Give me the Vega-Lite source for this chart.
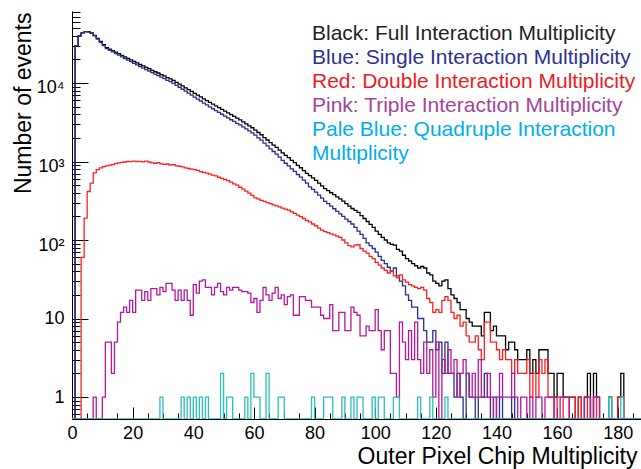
{
  "$schema": "https://vega.github.io/schema/vega-lite/v6.json",
  "width": 570,
  "height": 408,
  "autosize": {"type": "none"},
  "padding": {"left": 72, "top": 11, "right": 0, "bottom": 50},
  "background": "white",
  "config": {"view": {"stroke": null}, "font": "Liberation Sans"},
  "data": {"values": [
{"x":0,"a":0,"b":0,"c":0,"d":0,"e":0},
{"x":1,"a":29900,"b":29800,"c":0,"d":0,"e":0},
{"x":2,"a":39800,"b":39700,"c":0,"d":0,"e":0},
{"x":3,"a":43600,"b":43540,"c":60,"d":0,"e":0},
{"x":4,"a":45200,"b":45010,"c":190,"d":0,"e":0},
{"x":5,"a":45000,"b":44585,"c":415,"d":0,"e":0},
{"x":6,"a":43500,"b":42970,"c":530,"d":0,"e":0},
{"x":7,"a":40500,"b":39785,"c":715,"d":1,"e":0},
{"x":8,"a":37000,"b":36210,"c":790,"d":0,"e":0},
{"x":9,"a":33800,"b":32970,"c":830,"d":0,"e":0},
{"x":10,"a":30800,"b":29940,"c":860,"d":1,"e":0},
{"x":11,"a":28200,"b":27320,"c":880,"d":5,"e":0},
{"x":12,"a":27000,"b":26100,"c":900,"d":5,"e":0},
{"x":13,"a":25800,"b":24885,"c":915,"d":2,"e":0},
{"x":14,"a":24700,"b":23760,"c":940,"d":5,"e":0},
{"x":15,"a":23600,"b":22640,"c":960,"d":9,"e":0},
{"x":16,"a":22500,"b":21525,"c":975,"d":12,"e":0},
{"x":17,"a":21500,"b":20515,"c":985,"d":14,"e":0},
{"x":18,"a":20600,"b":19600,"c":1000,"d":12,"e":0},
{"x":19,"a":19700,"b":18705,"c":995,"d":17,"e":0},
{"x":20,"a":18800,"b":17790,"c":1010,"d":12,"e":0},
{"x":21,"a":18000,"b":17000,"c":1000,"d":23,"e":0},
{"x":22,"a":17200,"b":16195,"c":1005,"d":23,"e":0},
{"x":23,"a":16500,"b":15510,"c":990,"d":17,"e":0},
{"x":24,"a":15800,"b":14790,"c":1010,"d":22,"e":0},
{"x":25,"a":15200,"b":14215,"c":985,"d":17,"e":0},
{"x":26,"a":14500,"b":13540,"c":960,"d":24,"e":0},
{"x":27,"a":13900,"b":12950,"c":950,"d":24,"e":0},
{"x":28,"a":13400,"b":12435,"c":965,"d":20,"e":0},
{"x":29,"a":12800,"b":11865,"c":935,"d":25,"e":1},
{"x":30,"a":12300,"b":11380,"c":920,"d":22,"e":0},
{"x":31,"a":11700,"b":10770,"c":930,"d":28,"e":0},
{"x":32,"a":11300,"b":10400,"c":900,"d":28,"e":0},
{"x":33,"a":10800,"b":9890,"c":910,"d":23,"e":0},
{"x":34,"a":10200,"b":9320,"c":880,"d":17,"e":0},
{"x":35,"a":9690,"b":8820,"c":870,"d":23,"e":0},
{"x":36,"a":9180,"b":8325,"c":855,"d":17,"e":1},
{"x":37,"a":8690,"b":7860,"c":830,"d":23,"e":0},
{"x":38,"a":8240,"b":7425,"c":815,"d":17,"e":1},
{"x":39,"a":7800,"b":7000,"c":800,"d":11,"e":0},
{"x":40,"a":7390,"b":6600,"c":790,"d":27,"e":1},
{"x":41,"a":7000,"b":6230,"c":770,"d":21,"e":0},
{"x":42,"a":6640,"b":5895,"c":745,"d":30,"e":1},
{"x":43,"a":6280,"b":5555,"c":725,"d":31,"e":0},
{"x":44,"a":5960,"b":5250,"c":710,"d":25,"e":1},
{"x":45,"a":5660,"b":4970,"c":690,"d":25,"e":0},
{"x":46,"a":5370,"b":4700,"c":670,"d":20,"e":0},
{"x":47,"a":5110,"b":4455,"c":655,"d":25,"e":0},
{"x":48,"a":4850,"b":4220,"c":630,"d":28,"e":0},
{"x":49,"a":4610,"b":4000,"c":610,"d":22,"e":2},
{"x":50,"a":4380,"b":3790,"c":590,"d":20,"e":0},
{"x":51,"a":4160,"b":3590,"c":570,"d":25,"e":1},
{"x":52,"a":3950,"b":3405,"c":545,"d":23,"e":1},
{"x":53,"a":3760,"b":3240,"c":520,"d":25,"e":0},
{"x":54,"a":3560,"b":3060,"c":500,"d":25,"e":0},
{"x":55,"a":3390,"b":2920,"c":470,"d":23,"e":0},
{"x":56,"a":3200,"b":2755,"c":445,"d":22,"e":0},
{"x":57,"a":3020,"b":2600,"c":420,"d":22,"e":1},
{"x":58,"a":2850,"b":2455,"c":395,"d":21,"e":0},
{"x":59,"a":2690,"b":2320,"c":370,"d":16,"e":2},
{"x":60,"a":2510,"b":2165,"c":345,"d":18,"e":1},
{"x":61,"a":2340,"b":2005,"c":335,"d":12,"e":1},
{"x":62,"a":2190,"b":1870,"c":320,"d":17,"e":0},
{"x":63,"a":2020,"b":1710,"c":310,"d":25,"e":0},
{"x":64,"a":1880,"b":1580,"c":300,"d":20,"e":2},
{"x":65,"a":1740,"b":1450,"c":290,"d":17,"e":0},
{"x":66,"a":1620,"b":1340,"c":280,"d":21,"e":0},
{"x":67,"a":1510,"b":1240,"c":272,"d":25,"e":0},
{"x":68,"a":1400,"b":1135,"c":265,"d":18,"e":1},
{"x":69,"a":1290,"b":1035,"c":255,"d":20,"e":1},
{"x":70,"a":1200,"b":950,"c":248,"d":15,"e":0},
{"x":71,"a":1120,"b":880,"c":240,"d":19,"e":0},
{"x":72,"a":1035,"b":807,"c":228,"d":20,"e":0},
{"x":73,"a":966,"b":748,"c":218,"d":11,"e":0},
{"x":74,"a":891,"b":683,"c":208,"d":11,"e":0},
{"x":75,"a":832,"b":634,"c":198,"d":19,"e":0},
{"x":76,"a":767,"b":579,"c":188,"d":19,"e":0},
{"x":77,"a":708,"b":530,"c":178,"d":17,"e":0},
{"x":78,"a":661,"b":476,"c":170,"d":17,"e":0},
{"x":79,"a":617,"b":442,"c":160,"d":14,"e":1},
{"x":80,"a":575,"b":408,"c":152,"d":14,"e":0},
{"x":81,"a":531,"b":374,"c":142,"d":14,"e":0},
{"x":82,"a":490,"b":342,"c":134,"d":11,"e":0},
{"x":83,"a":452,"b":310,"c":128,"d":10,"e":1},
{"x":84,"a":425,"b":290,"c":124,"d":10,"e":1},
{"x":85,"a":400,"b":270,"c":120,"d":15,"e":1},
{"x":86,"a":378,"b":250,"c":116,"d":7,"e":0},
{"x":87,"a":355,"b":232,"c":112,"d":7,"e":0},
{"x":88,"a":335,"b":215,"c":108,"d":12,"e":0},
{"x":89,"a":312,"b":200,"c":100,"d":12,"e":1},
{"x":90,"a":290,"b":185,"c":92,"d":7,"e":0},
{"x":91,"a":270,"b":172,"c":85,"d":7,"e":0},
{"x":92,"a":252,"b":160,"c":82,"d":14,"e":1},
{"x":93,"a":238,"b":145,"c":86,"d":12,"e":0},
{"x":94,"a":225,"b":130,"c":87,"d":11,"e":1},
{"x":95,"a":205,"b":118,"c":78,"d":6,"e":1},
{"x":96,"a":188,"b":105,"c":72,"d":6,"e":0},
{"x":97,"a":172,"b":92,"c":68,"d":8,"e":0},
{"x":98,"a":158,"b":85,"c":62,"d":7,"e":0},
{"x":99,"a":145,"b":78,"c":58,"d":7,"e":1},
{"x":100,"a":130,"b":70,"c":52,"d":13,"e":0},
{"x":101,"a":118,"b":62,"c":48,"d":7,"e":1},
{"x":102,"a":108,"b":55,"c":44,"d":4,"e":1},
{"x":103,"a":100,"b":50,"c":41,"d":7,"e":0},
{"x":104,"a":92,"b":45,"c":38,"d":7,"e":0},
{"x":105,"a":88,"b":40,"c":40,"d":2,"e":0},
{"x":106,"a":86,"b":44,"c":35,"d":2,"e":1},
{"x":107,"a":76,"b":35,"c":33,"d":1,"e":1},
{"x":108,"a":72,"b":30,"c":36,"d":9,"e":0},
{"x":109,"a":64,"b":26,"c":31,"d":5,"e":0},
{"x":110,"a":58,"b":20,"c":29,"d":3,"e":0},
{"x":111,"a":54,"b":17,"c":27,"d":7,"e":0},
{"x":112,"a":50,"b":14,"c":26,"d":3,"e":0},
{"x":113,"a":47,"b":14,"c":25,"d":9,"e":0},
{"x":114,"a":44,"b":10,"c":24,"d":3,"e":1},
{"x":115,"a":46,"b":10,"c":25,"d":2,"e":0},
{"x":116,"a":44,"b":7,"c":23,"d":5,"e":0},
{"x":117,"a":38,"b":5,"c":18,"d":2,"e":0},
{"x":118,"a":36,"b":5,"c":16,"d":4,"e":1},
{"x":119,"a":30,"b":7,"c":12,"d":1,"e":0},
{"x":120,"a":28,"b":4,"c":13,"d":5,"e":0},
{"x":121,"a":26,"b":5,"c":12,"d":0,"e":0},
{"x":122,"a":30,"b":2,"c":17,"d":3,"e":0},
{"x":123,"a":31,"b":5,"c":19,"d":2,"e":1},
{"x":124,"a":24,"b":2,"c":17,"d":4,"e":0},
{"x":125,"a":20,"b":2,"c":12,"d":2,"e":0},
{"x":126,"a":18,"b":1,"c":10,"d":3,"e":0},
{"x":127,"a":16,"b":2,"c":11,"d":1,"e":0},
{"x":128,"a":13,"b":1,"c":8,"d":2,"e":0},
{"x":129,"a":13,"b":0,"c":9,"d":3,"e":0},
{"x":130,"a":10,"b":2,"c":6,"d":2,"e":0},
{"x":131,"a":9,"b":1,"c":5,"d":1,"e":0},
{"x":132,"a":8,"b":1,"c":5,"d":2,"e":0},
{"x":133,"a":8,"b":0,"c":6,"d":1,"e":0},
{"x":134,"a":8,"b":1,"c":4,"d":3,"e":0},
{"x":135,"a":6,"b":1,"c":3,"d":1,"e":0},
{"x":136,"a":12,"b":2,"c":9,"d":1,"e":0},
{"x":137,"a":12,"b":1,"c":9,"d":2,"e":0},
{"x":138,"a":7,"b":0,"c":5,"d":1,"e":0},
{"x":139,"a":8,"b":1,"c":5,"d":0,"e":0},
{"x":140,"a":6,"b":0,"c":4,"d":1,"e":0},
{"x":141,"a":6,"b":1,"c":3,"d":2,"e":0},
{"x":142,"a":6,"b":0,"c":4,"d":1,"e":0},
{"x":143,"a":4,"b":0,"c":3,"d":1,"e":0},
{"x":144,"a":5,"b":0,"c":3,"d":1,"e":0},
{"x":145,"a":5,"b":1,"c":2,"d":2,"e":0},
{"x":146,"a":4,"b":0,"c":3,"d":1,"e":0},
{"x":147,"a":3,"b":0,"c":2,"d":0,"e":0},
{"x":148,"a":3,"b":0,"c":2,"d":1,"e":0},
{"x":149,"a":3,"b":0,"c":2,"d":1,"e":0},
{"x":150,"a":4,"b":0,"c":3,"d":0,"e":0},
{"x":151,"a":2,"b":0,"c":1,"d":1,"e":0},
{"x":152,"a":3,"b":0,"c":2,"d":0,"e":0},
{"x":153,"a":2,"b":0,"c":1,"d":1,"e":0},
{"x":154,"a":4,"b":0,"c":3,"d":1,"e":0},
{"x":155,"a":4,"b":0,"c":2,"d":0,"e":0},
{"x":156,"a":4,"b":0,"c":3,"d":1,"e":0},
{"x":157,"a":2,"b":0,"c":1,"d":1,"e":0},
{"x":158,"a":2,"b":0,"c":1,"d":1,"e":0},
{"x":159,"a":1,"b":0,"c":0,"d":0,"e":0},
{"x":160,"a":2,"b":0,"c":1,"d":0,"e":0},
{"x":161,"a":2,"b":0,"c":1,"d":1,"e":0},
{"x":162,"a":1,"b":0,"c":0,"d":1,"e":0},
{"x":163,"a":1,"b":0,"c":0,"d":1,"e":0},
{"x":164,"a":1,"b":0,"c":1,"d":0,"e":0},
{"x":165,"a":1,"b":0,"c":1,"d":0,"e":0},
{"x":166,"a":0,"b":0,"c":0,"d":0,"e":0},
{"x":167,"a":1,"b":0,"c":1,"d":0,"e":0},
{"x":168,"a":0,"b":0,"c":0,"d":0,"e":0},
{"x":169,"a":1,"b":0,"c":0,"d":1,"e":0},
{"x":170,"a":2,"b":0,"c":1,"d":1,"e":0},
{"x":171,"a":0,"b":0,"c":0,"d":0,"e":0},
{"x":172,"a":2,"b":0,"c":1,"d":1,"e":0},
{"x":173,"a":1,"b":0,"c":0,"d":1,"e":0},
{"x":174,"a":0,"b":0,"c":0,"d":0,"e":0},
{"x":175,"a":0,"b":0,"c":0,"d":0,"e":0},
{"x":176,"a":0,"b":0,"c":0,"d":0,"e":0},
{"x":177,"a":1,"b":0,"c":0,"d":0,"e":1},
{"x":178,"a":0,"b":0,"c":0,"d":0,"e":0},
{"x":179,"a":0,"b":0,"c":0,"d":0,"e":0},
{"x":180,"a":1,"b":0,"c":1,"d":0,"e":0},
{"x":181,"a":2,"b":0,"c":1,"d":0,"e":1},
{"x":182,"a":0,"b":0,"c":0,"d":0,"e":0},
{"x":183,"a":0,"b":0,"c":0,"d":0,"e":0},
{"x":184,"a":0,"b":0,"c":0,"d":0,"e":0},
{"x":185,"a":0,"b":0,"c":0,"d":0,"e":0},
{"x":186,"a":0,"b":0,"c":0,"d":0,"e":0},
{"x":187,"a":0,"b":0,"c":0,"d":0,"e":0},
{"x":188,"a":0,"b":0,"c":0,"d":0,"e":0}
  ]},
  "transform": [{"fold": ["a", "b", "c", "d", "e"], "as": ["s", "n"]}],
  "mark": {"type": "line", "interpolate": "step-after", "strokeWidth": 1.3, "clip": true},
  "encoding": {
    "x": {
      "field": "x", "type": "quantitative",
      "scale": {"domain": [0, 188], "nice": false, "zero": false},
      "axis": {
        "title": "Outer Pixel Chip Multiplicity",
        "values": [0,5,10,15,20,25,30,35,40,45,50,55,60,65,70,75,80,85,90,95,100,105,110,115,120,125,130,135,140,145,150,155,160,165,170,175,180,185],
        "format": "d",
        "labelExpr": "datum.value % 20 === 0 ? datum.label : ''",
        "tickSize": {"condition": {"test": "datum.value % 20 === 0", "value": -12}, "value": -6},
        "tickColor": "black", "tickWidth": 1,
        "domainColor": "black", "domainWidth": 1,
        "grid": false,
        "labelFont": "Liberation Sans", "labelFontSize": 18, "labelColor": "black",
        "labelPadding": 17,
        "labelOverlap": false, "labelFlush": false, "labelBound": false,
        "titleFont": "Liberation Sans", "titleFontSize": 23, "titleFontWeight": "normal", "titleColor": "black",
        "titleAnchor": "end", "titleAlign": "right", "titleBaseline": "alphabetic",
        "titleX": 565, "titleY": 44
      }
    },
    "y": {
      "field": "n", "type": "quantitative",
      "scale": {"type": "log", "domain": [0.525, 82600], "nice": false, "clamp": true},
      "axis": {
        "title": "Number of events",
        "values": [0.6,0.7,0.8,0.9,1,2,3,4,5,6,7,8,9,10,20,30,40,50,60,70,80,90,100,200,300,400,500,600,700,800,900,1000,2000,3000,4000,5000,6000,7000,8000,9000,10000,20000,30000,40000,50000,60000,70000,80000],
        "labelExpr": "datum.value == 10000 ? '10⁴' : datum.value == 1000 ? '10³' : datum.value == 100 ? '10²' : datum.value == 10 ? '10' : datum.value == 1 ? '1' : ''",
        "tickSize": {"condition": {"test": "datum.value == 1 || datum.value == 10 || datum.value == 100 || datum.value == 1000 || datum.value == 10000", "value": -16}, "value": -8},
        "labelOffset": {"condition": {"test": "datum.value >= 100", "value": 5}, "value": 0},
        "tickColor": "black", "tickWidth": 1,
        "domainColor": "black", "domainWidth": 1,
        "grid": false,
        "labelFont": "Liberation Sans", "labelFontSize": 18, "labelColor": "black",
        "labelPadding": 24,
        "labelOverlap": false, "labelFlush": false, "labelBound": false,
        "titleFont": "Liberation Sans", "titleFontSize": 23, "titleFontWeight": "normal", "titleColor": "black",
        "titleAnchor": "end", "titleAngle": -90, "titleAlign": "right", "titleBaseline": "alphabetic",
        "titleX": -42, "titleY": 1
      }
    },
    "color": {
      "field": "s", "type": "nominal",
      "scale": {"domain": ["a", "b", "c", "d", "e"], "range": ["#000000", "#2b2f8f", "#ff1f1f", "#b5189c", "#2dbdbd"]},
      "legend": {
        "orient": "none", "legendX": 219, "legendY": 12,
        "title": null,
        "labelExpr": "datum.value === 'a' ? 'Black: Full Interaction Multiplicity' : datum.value === 'b' ? 'Blue: Single Interaction Multiplicity' : datum.value === 'c' ? 'Red: Double Interaction Multiplicity' : datum.value === 'd' ? 'Pink: Triple Interaction Multiplicity' : ['Pale Blue: Quadruple Interaction', 'Multiplicity']",
        "labelFont": "Liberation Sans", "labelFontSize": 21, "labelLimit": 0,
        "symbolSize": 0, "symbolStrokeWidth": 0, "symbolOpacity": 0,
        "labelOffset": 0, "rowPadding": 2, "padding": 0, "offset": 0,
        "encoding": {"labels": {
          "fill": {"condition": [
            {"test": "datum.value === 'a'", "value": "#231f20"},
            {"test": "datum.value === 'b'", "value": "#2e3192"},
            {"test": "datum.value === 'c'", "value": "#ed1c24"},
            {"test": "datum.value === 'd'", "value": "#a2459a"}
          ], "value": "#00aeef"},
          "lineHeight": {"value": 24}
        }}
      }
    }
  }
}
